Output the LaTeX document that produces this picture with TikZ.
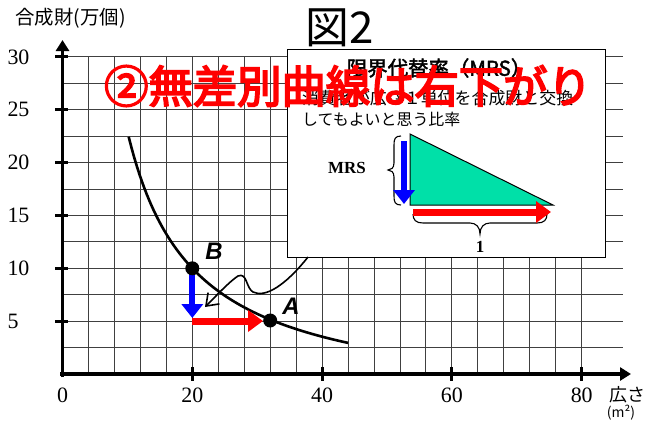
\documentclass[tikz,border=0pt]{standalone}
\usepackage{fontspec}
\setmainfont{Liberation Serif}
\newfontfamily\jp{Noto Sans CJK JP}
\newfontfamily\jpb[FakeBold=2]{Noto Sans CJK JP}
\newfontfamily\jph[FakeBold=4]{Noto Sans CJK JP}
\newfontfamily\lsans{Liberation Sans}
\usetikzlibrary{arrows.meta}
\definecolor{mrsgreen}{RGB}{0,224,168}
\begin{document}
\begin{tikzpicture}[x=1bp,y=-1bp,
 gridline/.style={draw=black!75,line width=0.9bp},
 axisline/.style={line width=3.8bp,-{Triangle[length=11bp,width=13bp]}},
 tickmark/.style={line width=3bp},
 numlab/.style={font=\fontsize{22}{24}\selectfont},
 dot/.style={circle,fill=black,minimum size=14bp,inner sep=0pt},
 redarrow/.style={draw=red,line width=7bp,-{Triangle[length=15bp,width=21bp]}},
 bluearrow/.style={draw=blue,line width=6bp,-{Triangle[length=14bp,width=21bp]}},
 bracestyle/.style={line width=1.1bp},
 ptlabel/.style={font=\lsans\bfseries\itshape\fontsize{24}{26}\selectfont},
]
\useasboundingbox (0,0) rectangle (648,426);
\fill[white] (0,0) rectangle (648,426);
% grid
\foreach \k in {1,...,20} \draw[gridline] ({62.5+25.96*\k},56.9) -- ({62.5+25.96*\k},374);
\foreach \k in {1,...,12} \draw[gridline] (62.5,{374-26.43*\k}) -- (623,{374-26.43*\k});
% indifference curve
\draw[line width=2.6bp] plot[domain=10.2:44,samples=80,smooth] ({62.5+6.49*\x},{374-10.57*(258.9/\x-2.94)});
% box
\node[draw,line width=1.3bp,fill=white,minimum width=318bp,minimum height=208bp,anchor=north west,inner sep=0pt] (box) at (287,49) {};
\node[font=\jpb\fontsize{20.5}{22}\selectfont] (mrstitle) at (439,68) {限界代替率（MRS）};
\node[anchor=west,inner sep=0pt,font=\jp\fontsize{17}{19}\selectfont] (line2) at (302,98) {消費者が広さ１単位を合成財と交換};
\node[anchor=west,inner sep=0pt,font=\jp\fontsize{16}{18}\selectfont] (line3) at (302,119) {してもよいと思う比率};
\coordinate (t1) at (410,134);
\coordinate (t2) at (410,205);
\coordinate (t3) at (553,205);
\filldraw[fill=mrsgreen,draw=black,line width=1bp] (t1) -- (t2) -- (t3) -- cycle;
% braces
\coordinate (lb1) at (401,136);
\coordinate (lb2) at (401,205);
\coordinate (lbt) at (388,170);
\draw[bracestyle] (lb1) .. controls (395,136) and (394,139) .. (394,145) -- (394,163) .. controls (394,168) and (391,170) .. (lbt) .. controls (391,170) and (394,172) .. (394,177) -- (394,196) .. controls (394,202) and (395,205) .. (lb2);
\coordinate (bb1) at (413,214);
\coordinate (bb2) at (547,214);
\coordinate (bbt) at (480,234);
\draw[bracestyle] (bb1) .. controls (413,220) and (416,223) .. (423,223) -- (470,223) .. controls (476,223) and (480,227) .. (bbt) .. controls (480,227) and (484,223) .. (490,223) -- (537,223) .. controls (544,223) and (547,220) .. (bb2);
\coordinate (ba1) at (404,141);
\coordinate (ba2) at (404,204);
\draw[bluearrow] (ba1) -- (ba2);
\coordinate (ra1) at (413,212);
\coordinate (ra2) at (551,212);
\draw[redarrow] (ra1) -- (ra2);
\node[font=\bfseries\fontsize{17}{19}\selectfont] (mrs) at (347,168) {MRS};
\node[font=\bfseries\fontsize{17}{19}\selectfont] (one) at (480,247) {1};
% squiggle pointer
\coordinate (sqs) at (308,257);
\coordinate (sqe) at (205,307);
\draw[line width=1.6bp,-{Straight Barb[length=11bp,width=16bp]}] (sqs) .. controls (285,286) and (265,298) .. (253,292) .. controls (246,288) and (247,272) .. (238,276) .. controls (230,281) and (216,296) .. (sqe);
% axes
\coordinate (yb) at (62.5,377);
\coordinate (yt) at (62.5,40);
\coordinate (xl) at (60,374);
\coordinate (xr) at (631,374);
\draw[axisline] (yb) -- (yt);
\draw[axisline] (xl) -- (xr);
\foreach \v in {5,10,...,30} {
  \draw[tickmark] (55,{374-10.57*\v}) -- (68,{374-10.57*\v});
  \node[numlab,anchor=west] (yl\v) at (4,{374-10.57*\v}) {\v};
}
\foreach \v in {20,40,60,80} \draw[tickmark] ({62.5+6.49*\v},367) -- ({62.5+6.49*\v},381);
\foreach \v in {0,20,40,60,80} \node[numlab] (xl\v) at ({62.5+6.49*\v},395) {\v};
\node[font=\jp\fontsize{18}{20}\selectfont] (xlab) at (627,395) {広さ};
\node[font=\jp\fontsize{14}{16}\selectfont] (xunit) at (621,413) {(m²)};
\node[font=\jp\fontsize{19.5}{21}\selectfont,anchor=west] (ylab) at (12,18) {合成財(万個)};
\node[font=\jp\fontsize{44}{46}\selectfont] (fig) at (340,28) {図2};
% movement arrows and points
\coordinate (Bc) at (192.3,268.3);
\coordinate (Ac) at (270.2,320.5);
\coordinate (bt) at (192.3,318);
\coordinate (rs) at (192.3,321);
\coordinate (rt) at (263,321);
\draw[bluearrow] (Bc) -- (bt);
\draw[redarrow] (rs) -- (rt);
\node[dot] (B) at (Bc) {};
\node[dot] (A) at (Ac) {};
\node[ptlabel] (Blab) at (214,251) {B};
\node[ptlabel] (Alab) at (291,306) {A};
% red headline
\node[text=red,font=\jph\fontsize{44.5}{46}\selectfont] (headline) at (348,86) {②無差別曲線は右下がり};
\end{tikzpicture}
\end{document}
